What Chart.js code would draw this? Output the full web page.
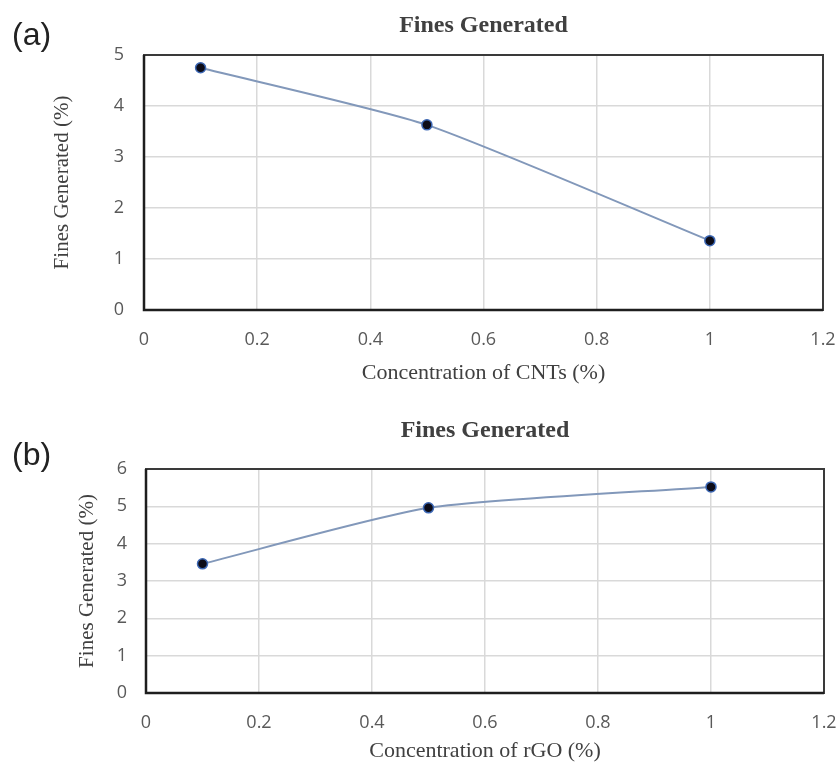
<!DOCTYPE html>
<html lang="en">
<head>
    <meta charset="UTF-8">
    <title>Fines Generated</title>
    <script src="https://cdn.jsdelivr.net/npm/chart.js"></script>
    <style>
        body { margin: 0; background: #fff; }
        #wrap { position: relative; width: 837px; height: 765px; overflow: hidden; }
        canvas { position: absolute; left: 0; }
        .panel { position: absolute; left: 12px; font: 32px "Liberation Sans", Arial, sans-serif; color: #222; }
    </style>
    <script>
        // values
        const concentration = [0.1, 0.5, 1.0];
        const finesCNT = [4.75, 3.63, 1.36];
        const finesRGO = [3.46, 4.96, 5.52];
        const xTicks = [0, 0.2, 0.4, 0.6, 0.8, 1, 1.2];
        const xTickLabels = ['0', '0.2', '0.4', '0.6', '0.8', '1', '1.2'];
        const yTicksA = [0, 1, 2, 3, 4, 5];
        const yTicksB = [0, 1, 2, 3, 4, 5, 6];

        document.addEventListener('DOMContentLoaded', () => {
            Chart.defaults.animation = false;

            const frame = {
                id: 'frame',
                afterDatasetsDraw(chart) {
                    const a = chart.chartArea;
                    const ctx = chart.ctx;
                    ctx.save();
                    ctx.lineWidth = 2;
                    ctx.strokeStyle = '#3a3a3a';
                    ctx.strokeRect(a.left, a.top, a.right - a.left, a.bottom - a.top);
                    ctx.lineWidth = 2.5;
                    ctx.strokeStyle = '#1e1e1e';
                    ctx.beginPath();
                    ctx.moveTo(a.left, a.top);
                    ctx.lineTo(a.left, a.bottom);
                    ctx.lineTo(a.right, a.bottom);
                    ctx.stroke();
                    ctx.restore();
                }
            };

            const serif = '"Liberation Serif", "Times New Roman", serif';

            const makeChart = (id, yVals, yTicks, xTitle, g) => {
                const points = concentration.map((x, i) => ({ x: x, y: yVals[i] }));
                return new Chart(document.getElementById(id), {
                    type: 'line',
                    data: {
                        datasets: [{
                            data: points,
                            borderColor: '#8298ba',
                            borderWidth: 2,
                            tension: 0.2,
                            pointRadius: 5,
                            pointBackgroundColor: '#0c0c18',
                            pointBorderColor: '#3d68b5',
                            pointBorderWidth: 1.5
                        }]
                    },
                    options: {
                        responsive: false,
                        layout: { padding: 0 },
                        plugins: {
                            legend: { display: false },
                            tooltip: { enabled: false },
                            title: {
                                display: true,
                                fullSize: false,
                                text: 'Fines Generated',
                                color: '#404040',
                                font: { family: serif, size: 24, weight: 'bold', lineHeight: 1.2 },
                                padding: { top: g.titleTop, bottom: g.titleBottom }
                            }
                        },
                        scales: {
                            x: {
                                type: 'linear',
                                min: 0,
                                max: 1.2,
                                afterBuildTicks: s => { s.ticks = xTicks.map(v => ({ value: v })); },
                                afterFit: s => { s.height = g.xHeight; s.paddingRight = g.right; },
                                grid: { color: '#d9d9d9', lineWidth: 1.5, drawTicks: false },
                                border: { display: false },
                                ticks: {
                                    color: '#595959',
                                    font: { family: '"Open Sans", sans-serif', size: 18 },
                                    padding: g.xTickPad,
                                    maxRotation: 0,
                                    callback: (v, i) => xTickLabels[i]
                                },
                                title: {
                                    display: true,
                                    text: xTitle,
                                    color: '#404040',
                                    font: { family: serif, size: 22, lineHeight: 1.2 },
                                    padding: { top: 0, bottom: g.xTitlePad }
                                }
                            },
                            y: {
                                min: 0,
                                max: yTicks[yTicks.length - 1],
                                afterBuildTicks: s => { s.ticks = yTicks.map(v => ({ value: v })); },
                                afterFit: s => { s.width = g.yWidth; },
                                grid: { color: '#d9d9d9', lineWidth: 1.5, drawTicks: false },
                                border: { display: false },
                                ticks: {
                                    color: '#595959',
                                    font: { family: '"Open Sans", sans-serif', size: 18 },
                                    padding: g.yTickPad
                                },
                                title: {
                                    display: true,
                                    text: 'Fines Generated (%)',
                                    color: '#404040',
                                    font: { family: serif, size: 21, lineHeight: 1.2 },
                                    padding: { top: g.yTitlePad, bottom: 0 }
                                }
                            }
                        }
                    },
                    plugins: [frame]
                });
            };

            makeChart('chartA', finesCNT, yTicksA, 'Concentration of CNTs (%)',
                { right: 14, titleTop: 11, titleBottom: 15.2, xHeight: 80, xTickPad: 19, xTitlePad: 4, yWidth: 144, yTickPad: 20, yTitlePad: 50 });
            makeChart('chartB', finesRGO, yTicksB, 'Concentration of rGO (%)',
                { right: 13, titleTop: 16.6, titleBottom: 23.6, xHeight: 72, xTickPad: 19, xTitlePad: 1, yWidth: 146, yTickPad: 19, yTitlePad: 75 });
        });
    </script>
</head>
<body>
<div id="wrap">
    <canvas id="chartA" width="837" height="390" style="top:0"></canvas>
    <canvas id="chartB" width="837" height="365" style="top:400px"></canvas>
    <div class="panel" style="top:16px">(a)</div>
    <div class="panel" style="top:436px">(b)</div>
</div>
</body>
</html>
